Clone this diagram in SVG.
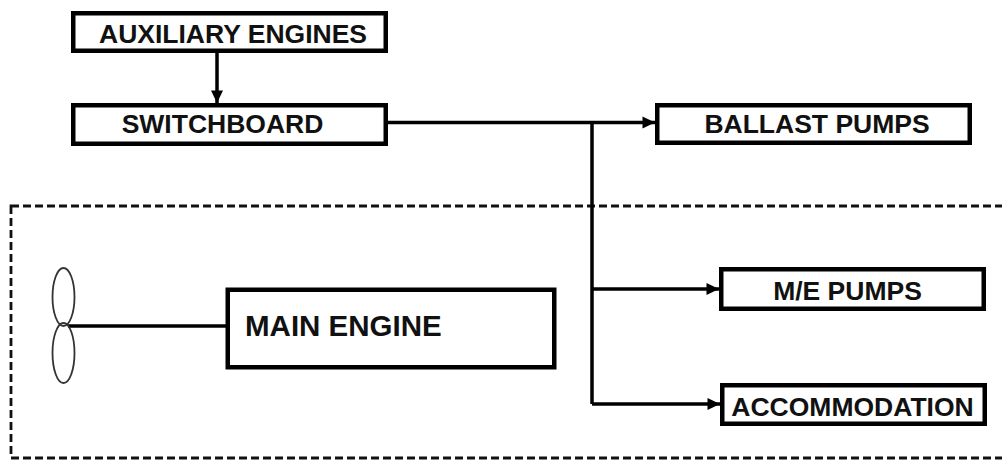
<svg xmlns="http://www.w3.org/2000/svg" width="1002" height="463" viewBox="0 0 1002 463">
<style>
.box{fill:#fff;stroke:#000;stroke-width:4.5}
.lbl{font-family:"Liberation Sans",Arial,sans-serif;font-weight:bold;font-size:26.5px;fill:#111;text-anchor:middle}
.con{fill:none;stroke:#000;stroke-width:3.5}
</style>
<defs>
<marker id="arr" markerUnits="userSpaceOnUse" markerWidth="14" markerHeight="14" viewBox="0 0 14 14" refX="13" refY="7" orient="auto">
<path d="M0.5 1 L13 7 L0.5 13 Z" fill="#000"/>
</marker>
</defs>
<rect x="11" y="206" width="1000" height="252" fill="none" stroke="#111" stroke-width="2.8" stroke-dasharray="8 4"/>
<g id="connectors">
<path class="con" d="M217 53 V103" marker-end="url(#arr)"/>
<path class="con" d="M388 122.5 H655" marker-end="url(#arr)"/>
<path class="con" d="M592 122.5 V404"/>
<path class="con" d="M592 289 H719" marker-end="url(#arr)"/>
<path class="con" d="M592 404 H720" marker-end="url(#arr)"/>
<path class="con" d="M68 326 H227" stroke-width="4.5"/>
</g>
<g id="propeller">
<ellipse cx="63.5" cy="297" rx="11" ry="29" fill="none" stroke="#333" stroke-width="1.8"/>
<ellipse cx="63.5" cy="353" rx="11" ry="30" fill="none" stroke="#333" stroke-width="1.8"/>
</g>
<g id="aux">
<rect class="box" x="73.25" y="13.25" width="312.5" height="37.5"/>
<text class="lbl" x="233" y="43">AUXILIARY ENGINES</text>
</g>
<g id="switchboard">
<rect class="box" x="73.25" y="105.25" width="312.5" height="38.5"/>
<text class="lbl" x="222.5" y="133">SWITCHBOARD</text>
</g>
<g id="ballast">
<rect class="box" x="657.25" y="105.25" width="312.5" height="37.5"/>
<text class="lbl" x="817" y="133">BALLAST PUMPS</text>
</g>
<g id="mepumps">
<rect class="box" x="721.25" y="269.25" width="262.5" height="39.5"/>
<text class="lbl" x="847.5" y="300">M/E PUMPS</text>
</g>
<g id="accommodation">
<rect class="box" x="722.25" y="385.25" width="262.5" height="38.5"/>
<text class="lbl" x="852.5" y="416">ACCOMMODATION</text>
</g>
<g id="mainengine">
<rect class="box" x="227.75" y="289.75" width="326.5" height="77.5" stroke-width="5.5"/>
<text class="lbl" x="245" y="336" style="text-anchor:start;font-size:29.5px">MAIN ENGINE</text>
</g>
</svg>
